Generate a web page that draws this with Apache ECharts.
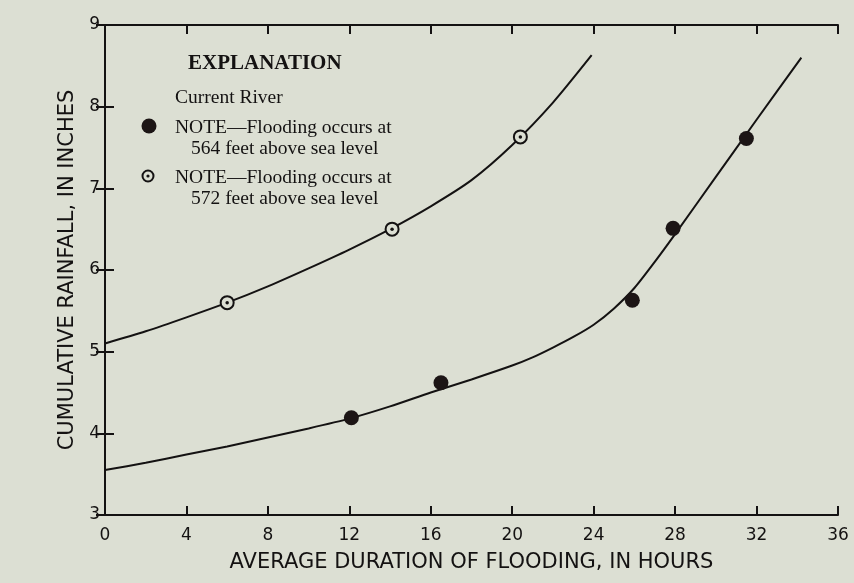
<!DOCTYPE html>
<html>
<head>
<meta charset="utf-8">
<script src="https://cdn.jsdelivr.net/npm/echarts@6/dist/echarts.min.js"></script>
<style>
html, body { margin: 0; padding: 0; background: #dcdfd3; }
#chart { width: 854px; height: 583px; }
</style>
</head>
<body>
<div id="chart"></div>
<script>
// fitted curves
const curve564 = [[0, 3.55], [2, 3.64], [4, 3.74], [6, 3.84], [8, 3.95], [10, 4.06], [12, 4.18],
    [14, 4.33], [16, 4.5], [18, 4.66], [20, 4.83], [21, 4.93], [22, 5.05], [23, 5.18], [24, 5.33],
    [25, 5.53], [26, 5.78], [27, 6.1], [28, 6.44], [30, 7.14], [32, 7.84], [34.2, 8.6]]
const curve572 = [[0, 5.1], [2, 5.25], [4, 5.42], [6, 5.6], [8, 5.8], [10, 6.02], [12, 6.25],
    [14, 6.5], [16, 6.78], [18, 7.1], [20, 7.53], [22, 8.05], [23.9, 8.63]]
// observed points
const points564 = [[12.1, 4.19], [16.5, 4.62], [25.9, 5.63], [27.9, 6.51], [31.5, 7.61]]
const points572 = [[6.0, 5.6], [14.1, 6.5], [20.4, 7.63]]

const ink = '#141212'
const paper = '#dcdfd3'
const serif = '"Liberation Serif", "DejaVu Serif", serif'
const sans = '"DejaVu Sans", sans-serif'

const myChart = echarts.init(document.getElementById('chart'))

const axisCommon = {
    type: 'value',
    axisLine: { show: true, lineStyle: { color: ink, width: 2 } },
    axisTick: { show: true, inside: true, length: 9, lineStyle: { color: ink, width: 2 } },
    splitLine: { show: false }
}

const legendText = (x, y, text, style) => ({
    type: 'text',
    left: x,
    top: y,
    style: Object.assign({ text, fill: ink, font: '19.5px ' + serif }, style || {})
})

const option = {
    backgroundColor: paper,
    animation: false,
    grid: { left: 105, right: 16, top: 25, bottom: 68 },
    xAxis: [
        Object.assign({}, axisCommon, {
            min: 0, max: 36, interval: 4,
            name: 'AVERAGE DURATION OF FLOODING, IN HOURS',
            nameLocation: 'middle',
            nameGap: 37,
            nameTextStyle: { color: ink, fontFamily: sans, fontSize: 21 },
            axisLabel: { color: ink, fontFamily: sans, fontSize: 17, margin: 12 }
        }),
        Object.assign({}, axisCommon, {
            position: 'top', min: 0, max: 36, interval: 4,
            axisLabel: { show: false }
        })
    ],
    yAxis: [
        Object.assign({}, axisCommon, {
            min: 3, max: 9, interval: 1,
            name: 'CUMULATIVE RAINFALL, IN INCHES',
            nameLocation: 'middle',
            nameGap: 25,
            nameTextStyle: { color: ink, fontFamily: sans, fontSize: 21 },
            axisLabel: { color: ink, fontFamily: sans, fontSize: 17, margin: 5 }
        }),
        Object.assign({}, axisCommon, {
            position: 'right', min: 3, max: 9, interval: 1,
            axisLabel: { show: false }
        })
    ],
    series: [
        {
            type: 'line', data: curve564, smooth: 0.25, showSymbol: false,
            lineStyle: { color: ink, width: 2 }
        },
        {
            type: 'line', data: curve572, smooth: 0.25, showSymbol: false,
            lineStyle: { color: ink, width: 2 }
        },
        {
            type: 'scatter', data: points564, symbol: 'circle', symbolSize: 15,
            itemStyle: { color: '#1c1515', opacity: 1 }, z: 5
        },
        {
            type: 'scatter', data: points572, symbol: 'circle', symbolSize: 13,
            itemStyle: { color: paper, borderColor: ink, borderWidth: 2, opacity: 1 }, z: 5
        },
        {
            type: 'scatter', data: points572, symbol: 'circle', symbolSize: 3.5,
            itemStyle: { color: ink, opacity: 1 }, z: 6
        }
    ],
    graphic: [
        legendText(188, 53, 'EXPLANATION', { font: 'bold 21px ' + serif }),
        legendText(175, 88, 'Current River'),
        legendText(175, 118, 'NOTE\u2014Flooding occurs at'),
        legendText(191, 139, '564 feet above sea level'),
        legendText(175, 168, 'NOTE\u2014Flooding occurs at'),
        legendText(191, 189, '572 feet above sea level'),
        { type: 'circle', shape: { cx: 149, cy: 126, r: 7.5 }, style: { fill: '#1c1515' } },
        { type: 'circle', shape: { cx: 148, cy: 176, r: 5.5 }, style: { fill: paper, stroke: ink, lineWidth: 2 } },
        { type: 'circle', shape: { cx: 148, cy: 176, r: 1.6 }, style: { fill: ink } }
    ]
}
myChart.setOption(option)
</script>
</body>
</html>
